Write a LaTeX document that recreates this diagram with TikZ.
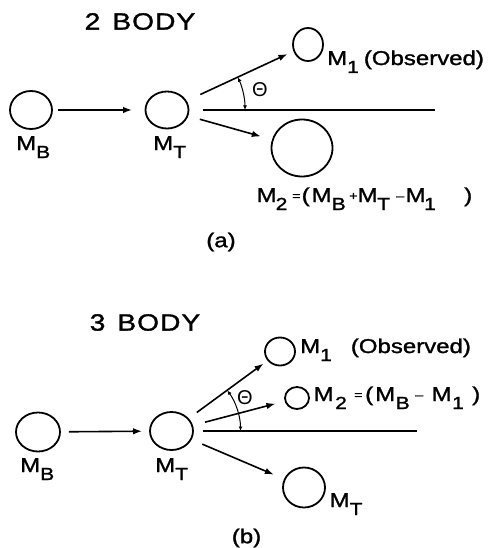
\documentclass[tikz,border=0pt]{standalone}
\usepackage{fontspec}
\setmainfont{Liberation Sans}[FakeStretch=1.2, FakeBold=1.4]
\newfontfamily\thinfont{Liberation Sans}
\usetikzlibrary{arrows.meta,shapes.geometric,calc}

% subscript set low and almost full size, as in hand lettering
\newcommand\sbs[1]{\raisebox{-8pt}{\fontsize{17.5pt}{17.5pt}\selectfont #1}}
% small operator signs
\newcommand\sml[1]{\raisebox{2pt}{\fontsize{12pt}{12pt}\selectfont #1}}
% a glyph in a box of fixed width
\newcommand\gl[2]{\makebox[#1][l]{#2}}

\begin{document}
\begin{tikzpicture}[x=1pt,y=1pt,
  body/.style={ellipse, draw, line width=1.8pt, inner sep=0pt},
  lbl/.style={inner sep=0pt, font=\fontsize{20pt}{20pt}\selectfont},
  title/.style={inner sep=0pt, font=\fontsize{23.5pt}{23.5pt}\selectfont},
  anglbl/.style={inner sep=0pt, font=\thinfont\fontsize{20pt}{20pt}\selectfont},
  flow/.style={line width=1.6pt, -{Latex[length=9pt,width=6.5pt]}},
  axis/.style={line width=1.5pt},
  angle/.style={line width=1pt, {Latex[length=4.5pt,width=4pt]}-{Latex[length=4.5pt,width=4pt]}}]
\useasboundingbox (0,0) rectangle (487,-548);

% ---------------- (a) two-body reaction ----------------
\node[title] (tA) at (140,-21.5) {2\hspace{12pt}B\kern1ptO\kern1ptD\kern1ptY};

\node[body, minimum width=42pt, minimum height=38pt] (mbA) at (31,-110) {};
\node[body, minimum width=43pt, minimum height=37pt] (mtA) at (167,-110) {};
\node[body, minimum width=30pt, minimum height=33pt] (m1A) at (308,-44.5) {};
\node[body, minimum width=61pt, minimum height=57pt] (m2A) at (302,-148) {};
\coordinate (hA) at (435,-110);

\draw[flow, shorten <=5pt, shorten >=12.5pt] (mbA) -- (mtA);
\draw[flow, shorten <=15pt, shorten >=6.5pt] (mtA) -- (m1A);
\draw[flow, shorten <=12pt, shorten >=11.5pt] (mtA) -- (m2A);
\draw[axis, shorten <=14pt] (mtA) -- (hA);
\draw[angle] ($(mtA)+(78,0)$) arc[start angle=0, end angle=24.8, radius=78];

\node[lbl, anchor=base west] (lmbA) at (16,-150) {M\sbs{B}};
\node[lbl, anchor=base west] (lmtA) at (153,-150) {M\sbs{T}};
\node[lbl, anchor=base west] (lm1A) at (327,-65) {M\sbs{1}\kern5pt(Observed)};
\node[anglbl] (thA) at (260,-90) {Θ};
\node[lbl, anchor=base west] (lm2A) at (256.5,-202)
  {\gl{19pt}{M}\gl{16.5pt}{\sbs{2}}\gl{9.5pt}{\sml{=}}\gl{10pt}{(}\gl{20pt}{M}%
   \gl{17.5pt}{\sbs{B}}\gl{8.5pt}{\sml{+}}\gl{19.5pt}{M}\gl{19pt}{\sbs{T}}%
   \gl{9.5pt}{\sml{\textendash}}\gl{18.5pt}{M}\gl{40pt}{\sbs{1}})};
\node[lbl] (capA) at (221,-242) {(a)};

% ---------------- (b) three-body reaction ----------------
\node[title] (tB) at (145,-322.5) {3\hspace{12pt}B\kern1ptO\kern1ptD\kern1ptY};

\node[body, minimum width=44pt, minimum height=39pt] (mbB) at (38,-432) {};
\node[body, minimum width=43pt, minimum height=38pt] (mtB) at (171.5,-431) {};
\node[body, minimum width=30pt, minimum height=28pt] (m1B) at (280,-351.5) {};
\node[body, minimum width=24pt, minimum height=22pt] (m2B) at (297,-398) {};
\node[body, minimum width=42pt, minimum height=40pt] (mtrB) at (304,-487.5) {};
\coordinate (hB) at (417,-431);

\draw[flow, shorten <=8pt, shorten >=7pt] (mbB) -- (mtB);
\draw[flow, shorten <=10pt, shorten >=5pt] (mtB) -- (m1B);
\draw[flow, shorten <=12.5pt, shorten >=9.5pt] (mtB) -- (m2B);
\draw[flow, shorten <=11.5pt, shorten >=11pt] (mtB) -- (mtrB);
\draw[axis, shorten <=9pt] (mtB) -- (hB);
\draw[angle] ($(mtB)+(69,0)$) arc[start angle=0, end angle=36, radius=69];

\node[lbl, anchor=base west] (lmbB) at (20,-472) {M\sbs{B}};
\node[lbl, anchor=base west] (lmtB) at (155,-472) {M\sbs{T}};
\node[lbl, anchor=base west] (lm1B) at (300,-353) {M\sbs{1}\kern19pt(Observed)};
\node[anglbl] (thB) at (245,-398) {Θ};
\node[lbl, anchor=base west] (lm2B) at (313.5,-401)
  {\gl{21.5pt}{M}\gl{19pt}{\sbs{2}}\gl{11pt}{\sml{=}}\gl{10pt}{(}\gl{20.5pt}{M}%
   \gl{19.5pt}{\sbs{B}}\gl{16.5pt}{\sml{\textendash}}\gl{20.5pt}{M}\gl{20pt}{\sbs{1}})};
\node[lbl, anchor=base west] (lmtrB) at (329.5,-507) {M\sbs{T}};
\node[lbl] (capB) at (246.5,-538) {(b)};
\end{tikzpicture}
\end{document}
